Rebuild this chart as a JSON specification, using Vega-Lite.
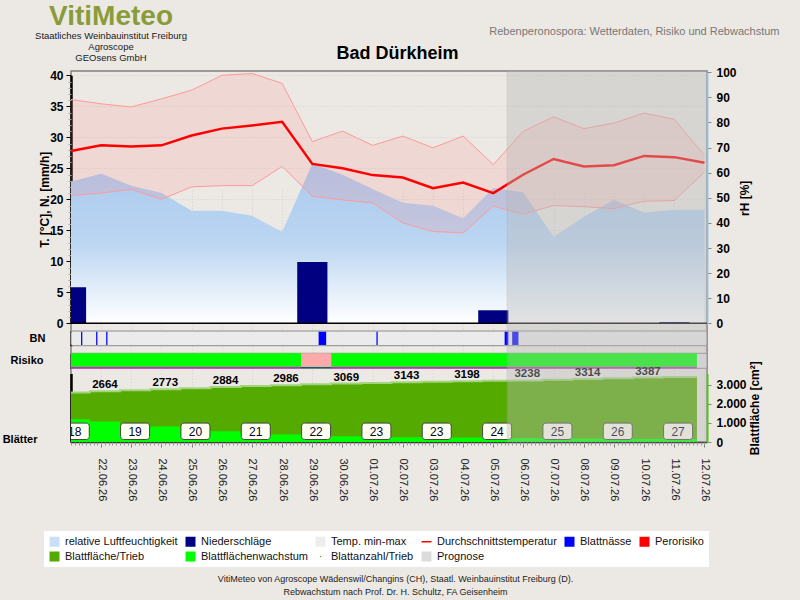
{
  "$schema": "https://vega.github.io/schema/vega-lite/v6.json",
  "width": 636,
  "height": 371,
  "autosize": "none",
  "padding": {"left": 71, "top": 71, "right": 93, "bottom": 158},
  "background": "#ece9e4",
  "title": {
    "text": "VitiMeteo",
    "subtitle": ["Staatliches Weinbauinstitut Freiburg", "Agroscope", "GEOsens GmbH"],
    "anchor": "start",
    "frame": "group",
    "align": "center",
    "dx": 40,
    "dy": 47,
    "offset": 10,
    "font": "Liberation Sans",
    "fontSize": 28,
    "fontWeight": "bold",
    "color": "#8a9c3a",
    "subtitleFont": "Liberation Sans",
    "subtitleFontSize": 9.5,
    "subtitleColor": "#1a1a1a",
    "subtitleLineHeight": 11,
    "subtitlePadding": 0
  },
  "config": {
    "view": {"fill": "#ffffff", "stroke": "#808080", "strokeWidth": 1.5},
    "font": "Liberation Sans"
  },
  "datasets": {
    "tage": [
      {"zeit": "2026-06-21T00:00", "tmin": 20.6, "tmax": 36.1, "tmittel": 27.8, "rh": 56.5},
      {"zeit": "2026-06-22T00:00", "tmin": 21.0, "tmax": 35.4, "tmittel": 28.7, "rh": 59.6},
      {"zeit": "2026-06-23T00:00", "tmin": 21.6, "tmax": 34.9, "tmittel": 28.5, "rh": 54.8},
      {"zeit": "2026-06-24T00:00", "tmin": 20.0, "tmax": 36.2, "tmittel": 28.7, "rh": 51.9},
      {"zeit": "2026-06-25T00:00", "tmin": 22.0, "tmax": 37.6, "tmittel": 30.3, "rh": 44.8},
      {"zeit": "2026-06-26T00:00", "tmin": 22.2, "tmax": 40.0, "tmittel": 31.4, "rh": 44.8},
      {"zeit": "2026-06-27T00:00", "tmin": 22.2, "tmax": 40.3, "tmittel": 31.9, "rh": 42.8},
      {"zeit": "2026-06-28T00:00", "tmin": 25.3, "tmax": 38.7, "tmittel": 32.5, "rh": 36.5},
      {"zeit": "2026-06-29T00:00", "tmin": 20.5, "tmax": 29.3, "tmittel": 25.7, "rh": 63.6},
      {"zeit": "2026-06-30T00:00", "tmin": 19.9, "tmax": 31.0, "tmittel": 25.0, "rh": 59.2},
      {"zeit": "2026-07-01T00:00", "tmin": 19.4, "tmax": 28.7, "tmittel": 23.9, "rh": 53.5},
      {"zeit": "2026-07-02T00:00", "tmin": 16.2, "tmax": 30.2, "tmittel": 23.5, "rh": 48.0},
      {"zeit": "2026-07-03T00:00", "tmin": 14.8, "tmax": 28.3, "tmittel": 21.8, "rh": 46.8},
      {"zeit": "2026-07-04T00:00", "tmin": 14.6, "tmax": 30.2, "tmittel": 22.7, "rh": 41.9},
      {"zeit": "2026-07-05T00:00", "tmin": 18.9, "tmax": 25.6, "tmittel": 21.0, "rh": 53.9},
      {"zeit": "2026-07-06T00:00", "tmin": 17.6, "tmax": 31.0, "tmittel": 24.0, "rh": 52.1},
      {"zeit": "2026-07-07T00:00", "tmin": 19.0, "tmax": 33.3, "tmittel": 26.5, "rh": 34.5},
      {"zeit": "2026-07-08T00:00", "tmin": 18.8, "tmax": 31.4, "tmittel": 25.3, "rh": 42.5},
      {"zeit": "2026-07-09T00:00", "tmin": 18.5, "tmax": 32.3, "tmittel": 25.5, "rh": 49.2},
      {"zeit": "2026-07-10T00:00", "tmin": 19.7, "tmax": 33.9, "tmittel": 27.0, "rh": 44.1},
      {"zeit": "2026-07-11T00:00", "tmin": 19.8, "tmax": 32.9, "tmittel": 26.8, "rh": 45.2},
      {"zeit": "2026-07-12T00:00", "tmin": 24.4, "tmax": 27.1, "tmittel": 25.9, "rh": 45.2}
    ],
    "regen": [
      {"zeit": "2026-06-21T00:00", "mm": 5.8},
      {"zeit": "2026-06-29T00:00", "mm": 9.9},
      {"zeit": "2026-07-05T00:00", "mm": 2.1},
      {"zeit": "2026-07-11T00:00", "mm": 0.2}
    ],
    "blattnaesse": [
      {"zeit": "2026-06-21T08:00", "ende": "2026-06-21T09:00"},
      {"zeit": "2026-06-21T20:00", "ende": "2026-06-21T21:00"},
      {"zeit": "2026-06-22T04:00", "ende": "2026-06-22T05:00"},
      {"zeit": "2026-06-29T05:00", "ende": "2026-06-29T11:00"},
      {"zeit": "2026-07-01T03:00", "ende": "2026-07-01T04:00"},
      {"zeit": "2026-07-05T09:00", "ende": "2026-07-05T12:00"},
      {"zeit": "2026-07-05T15:00", "ende": "2026-07-05T20:00"}
    ],
    "risiko": [
      {"zeit": "2026-06-21T00:00", "ende": "2026-06-28T15:00", "stufe": "gering"},
      {"zeit": "2026-06-28T15:00", "ende": "2026-06-29T15:00", "stufe": "mittel"},
      {"zeit": "2026-06-29T15:00", "ende": "2026-07-11T18:00", "stufe": "gering"}
    ],
    "blatt": [
      {"zeit": "2026-06-20T15:00", "flaeche": 2600, "wachstum": 1200, "beschriftet": false},
      {"zeit": "2026-06-21T03:00", "flaeche": 2600, "wachstum": 1200, "beschriftet": false},
      {"zeit": "2026-06-22T03:00", "flaeche": 2664, "wachstum": 1080, "beschriftet": true},
      {"zeit": "2026-06-23T03:00", "flaeche": 2720, "wachstum": 910, "beschriftet": false},
      {"zeit": "2026-06-24T03:00", "flaeche": 2773, "wachstum": 820, "beschriftet": true},
      {"zeit": "2026-06-25T03:00", "flaeche": 2830, "wachstum": 650, "beschriftet": false},
      {"zeit": "2026-06-26T03:00", "flaeche": 2884, "wachstum": 560, "beschriftet": true},
      {"zeit": "2026-06-27T03:00", "flaeche": 2937, "wachstum": 470, "beschriftet": false},
      {"zeit": "2026-06-28T03:00", "flaeche": 2986, "wachstum": 400, "beschriftet": true},
      {"zeit": "2026-06-29T03:00", "flaeche": 3030, "wachstum": 380, "beschriftet": false},
      {"zeit": "2026-06-30T03:00", "flaeche": 3069, "wachstum": 300, "beschriftet": true},
      {"zeit": "2026-07-01T03:00", "flaeche": 3107, "wachstum": 270, "beschriftet": false},
      {"zeit": "2026-07-02T03:00", "flaeche": 3143, "wachstum": 250, "beschriftet": true},
      {"zeit": "2026-07-03T03:00", "flaeche": 3172, "wachstum": 240, "beschriftet": false},
      {"zeit": "2026-07-04T03:00", "flaeche": 3198, "wachstum": 230, "beschriftet": true},
      {"zeit": "2026-07-05T03:00", "flaeche": 3218, "wachstum": 220, "beschriftet": false},
      {"zeit": "2026-07-06T03:00", "flaeche": 3238, "wachstum": 210, "beschriftet": true},
      {"zeit": "2026-07-07T03:00", "flaeche": 3276, "wachstum": 200, "beschriftet": false},
      {"zeit": "2026-07-08T03:00", "flaeche": 3314, "wachstum": 190, "beschriftet": true},
      {"zeit": "2026-07-09T03:00", "flaeche": 3351, "wachstum": 180, "beschriftet": false},
      {"zeit": "2026-07-10T03:00", "flaeche": 3387, "wachstum": 170, "beschriftet": true},
      {"zeit": "2026-07-11T03:00", "flaeche": 3420, "wachstum": 160, "beschriftet": false},
      {"zeit": "2026-07-11T18:00", "flaeche": 3420, "wachstum": 160, "beschriftet": false}
    ],
    "blattzahl": [
      {"zeit": "2026-06-21T03:00", "anzahl": 18},
      {"zeit": "2026-06-23T03:00", "anzahl": 19},
      {"zeit": "2026-06-25T03:00", "anzahl": 20},
      {"zeit": "2026-06-27T03:00", "anzahl": 21},
      {"zeit": "2026-06-29T03:00", "anzahl": 22},
      {"zeit": "2026-07-01T03:00", "anzahl": 23},
      {"zeit": "2026-07-03T03:00", "anzahl": 23},
      {"zeit": "2026-07-05T03:00", "anzahl": 24},
      {"zeit": "2026-07-07T03:00", "anzahl": 25},
      {"zeit": "2026-07-09T03:00", "anzahl": 26},
      {"zeit": "2026-07-11T03:00", "anzahl": 27}
    ],
    "prognose": [
      {"zeit": "2026-07-05T11:00", "ende": "2026-07-12T02:00"}
    ],
    "legende": [
      {"eintrag": "relative Luftfeuchtigkeit"},
      {"eintrag": "Niederschläge"},
      {"eintrag": "Temp. min-max"},
      {"eintrag": "Durchschnittstemperatur"},
      {"eintrag": "Blattnässe"},
      {"eintrag": "Perorisiko"},
      {"eintrag": "Blattfläche/Trieb"},
      {"eintrag": "Blattflächenwachstum"},
      {"eintrag": "Blattanzahl/Trieb"},
      {"eintrag": "Prognose"}
    ]
  },
  "layer": [
    {
      "data": {"name": "tage"},
      "mark": {
        "type": "area",
        "color": {
          "gradient": "linear",
          "x1": 0, "y1": 0, "x2": 0, "y2": 1,
          "stops": [
            {"offset": 0, "color": "#a9c9ee"},
            {"offset": 0.5, "color": "#bcd6f2"},
            {"offset": 1, "color": "#ffffff"}
          ]
        }
      },
      "encoding": {
        "x": {
          "field": "zeit", "type": "temporal",
          "scale": {"domain": [{"year": 2026, "month": 6, "date": 21}, {"year": 2026, "month": 7, "date": 12, "hours": 2}], "padding": 0},
          "axis": {
            "orient": "bottom",
            "values": [
              {"year": 2026, "month": 6, "date": 22}, {"year": 2026, "month": 6, "date": 23},
              {"year": 2026, "month": 6, "date": 24}, {"year": 2026, "month": 6, "date": 25},
              {"year": 2026, "month": 6, "date": 26}, {"year": 2026, "month": 6, "date": 27},
              {"year": 2026, "month": 6, "date": 28}, {"year": 2026, "month": 6, "date": 29},
              {"year": 2026, "month": 6, "date": 30}, {"year": 2026, "month": 7, "date": 1},
              {"year": 2026, "month": 7, "date": 2}, {"year": 2026, "month": 7, "date": 3},
              {"year": 2026, "month": 7, "date": 4}, {"year": 2026, "month": 7, "date": 5},
              {"year": 2026, "month": 7, "date": 6}, {"year": 2026, "month": 7, "date": 7},
              {"year": 2026, "month": 7, "date": 8}, {"year": 2026, "month": 7, "date": 9},
              {"year": 2026, "month": 7, "date": 10}, {"year": 2026, "month": 7, "date": 11},
              {"year": 2026, "month": 7, "date": 12}
            ],
            "format": "%d.%m.%y",
            "labelAngle": 90,
            "labelFlush": false,
            "labelOverlap": false,
            "labelFont": "Liberation Sans",
            "labelFontSize": 11,
            "labelColor": "#222222",
            "labelPadding": 11,
            "tickSize": 5,
            "tickColor": "#777777",
            "domain": true,
            "domainColor": "#333333",
            "domainWidth": 1.5,
            "grid": true,
            "gridColor": "#d2d2d2",
            "gridDash": [1, 2],
            "title": ["VitiMeteo von Agroscope Wädenswil/Changins (CH), Staatl. Weinbauinstitut Freiburg (D).", "Rebwachstum nach Prof. Dr. H. Schultz, FA Geisenheim"],
            "titleFont": "Liberation Sans",
            "titleFontSize": 9,
            "titleFontWeight": "normal",
            "titleColor": "#222222",
            "titleX": 324,
            "titleY": 132,
            "titleAlign": "center",
            "titleBaseline": "top",
            "titleLineHeight": 13
          }
        },
        "y": {
          "field": "rh", "type": "quantitative",
          "scale": {"domain": [0, 100], "range": [252.3, 1.3]},
          "axis": {
            "orient": "right",
            "title": "rH [%]",
            "titleAngle": 270,
            "titleBaseline": "top",
            "titleFont": "Liberation Sans",
            "titleFontSize": 12,
            "titleFontWeight": "bold",
            "titleColor": "#000000",
            "titlePadding": 3,
            "values": [0, 10, 20, 30, 40, 50, 60, 70, 80, 90, 100],
            "labelFont": "Liberation Sans",
            "labelFontSize": 12,
            "labelFontWeight": "bold",
            "labelColor": "#000000",
            "labelPadding": 5,
            "tickSize": 4,
            "tickColor": "#888888",
            "domainColor": "#9cc4e4",
            "domainWidth": 2,
            "grid": false
          }
        }
      }
    },
    {
      "data": {"name": "tage"},
      "mark": {"type": "area", "color": "#ff8080", "opacity": 0.17},
      "encoding": {
        "x": {
          "field": "zeit", "type": "temporal",
          "scale": {"domain": [{"year": 2026, "month": 6, "date": 21}, {"year": 2026, "month": 7, "date": 12, "hours": 2}], "padding": 0},
          "axis": {
            "orient": "top",
            "labels": false, "ticks": false, "domain": false, "grid": false,
            "title": "Rebenperonospora: Wetterdaten, Risiko und Rebwachstum",
            "titleFont": "Liberation Sans",
            "titleFontSize": 11,
            "titleFontWeight": "normal",
            "titleColor": "#777777",
            "titleAlign": "right",
            "titleX": 708,
            "titleY": -37,
            "titleBaseline": "alphabetic"
          }
        },
        "y": {
          "field": "tmax", "type": "quantitative",
          "scale": {"domain": [0, 40], "range": [252.3, 4.3]},
          "axis": {
            "orient": "left",
            "title": "T. [°C], N. [mm/h]",
            "titleFont": "Liberation Sans",
            "titleFontSize": 12,
            "titleFontWeight": "bold",
            "titleColor": "#000000",
            "titlePadding": -2,
            "values": [0, 5, 10, 15, 20, 25, 30, 35, 40],
            "labelFont": "Liberation Sans",
            "labelFontSize": 12,
            "labelFontWeight": "bold",
            "labelColor": "#000000",
            "labelPadding": 3,
            "tickSize": 5,
            "tickColor": "#000000",
            "domainColor": "#000000",
            "domainWidth": 2.5,
            "grid": true,
            "gridColor": "#d2d2d2",
            "gridDash": [1, 2]
          }
        },
        "y2": {"field": "tmin"}
      }
    },
    {
      "data": {"name": "tage"},
      "mark": {"type": "line", "color": "#ff9a9a", "strokeWidth": 1},
      "encoding": {
        "x": {
          "field": "zeit", "type": "temporal",
          "scale": {"domain": [{"year": 2026, "month": 6, "date": 21}, {"year": 2026, "month": 7, "date": 12, "hours": 2}], "padding": 0},
          "axis": {
            "orient": "bottom",
            "tickCount": 126,
            "labels": false, "domain": false, "grid": false,
            "tickSize": 3, "tickColor": "#999999",
            "title": null
          }
        },
        "y": {"field": "tmax", "type": "quantitative", "scale": {"domain": [0, 40], "range": [252.3, 4.3]}, "axis": null}
      }
    },
    {
      "data": {"name": "tage"},
      "mark": {"type": "line", "color": "#ff9a9a", "strokeWidth": 1},
      "encoding": {
        "x": {"field": "zeit", "type": "temporal", "scale": {"domain": [{"year": 2026, "month": 6, "date": 21}, {"year": 2026, "month": 7, "date": 12, "hours": 2}], "padding": 0}, "axis": null},
        "y": {"field": "tmin", "type": "quantitative", "scale": {"domain": [0, 40], "range": [252.3, 4.3]}, "axis": null}
      }
    },
    {
      "data": {"name": "tage"},
      "mark": {"type": "line", "color": "#ff0000", "strokeWidth": 2.5},
      "encoding": {
        "x": {"field": "zeit", "type": "temporal", "scale": {"domain": [{"year": 2026, "month": 6, "date": 21}, {"year": 2026, "month": 7, "date": 12, "hours": 2}], "padding": 0}, "axis": null},
        "y": {"field": "tmittel", "type": "quantitative", "scale": {"domain": [0, 40], "range": [252.3, 4.3]}, "axis": null}
      }
    },
    {
      "data": {"name": "regen"},
      "mark": {"type": "bar", "color": "#000080", "size": 30.2, "clip": true},
      "encoding": {
        "x": {"field": "zeit", "type": "temporal", "scale": {"domain": [{"year": 2026, "month": 6, "date": 21}, {"year": 2026, "month": 7, "date": 12, "hours": 2}], "padding": 0}, "axis": null},
        "y": {
          "field": "mm", "type": "quantitative",
          "scale": {"domain": [0, 40], "range": [252.3, 4.3]},
          "axis": {
            "orient": "left",
            "values": [1, 2, 3, 4, 6, 7, 8, 9, 11, 12, 13, 14, 16, 17, 18, 19, 21, 22, 23, 24, 26, 27, 28, 29, 31, 32, 33, 34, 36, 37, 38, 39],
            "labels": false, "domain": false, "grid": false,
            "tickSize": 3, "tickColor": "#aaaaaa",
            "title": null
          }
        }
      }
    },
    {
      "data": {"values": [{}]},
      "mark": {"type": "rule", "color": "#000000", "strokeWidth": 1.5},
      "encoding": {
        "y": {"datum": 0, "type": "quantitative", "scale": {"domain": [0, 40], "range": [252.3, 4.3]}, "axis": null}
      }
    },
    {
      "data": {"values": [{}]},
      "mark": {"type": "rect", "color": "#ebebeb", "stroke": "#8c8c8c", "strokeWidth": 1, "cornerRadius": 2},
      "encoding": {
        "y": {
          "datum": 0, "type": "quantitative",
          "scale": {"domain": [0, 1], "range": [274.7, 260]},
          "axis": {
            "orient": "left",
            "values": [0.5],
            "labelExpr": "'BN'",
            "labelFont": "Liberation Sans",
            "labelFontSize": 11,
            "labelFontWeight": "bold",
            "labelColor": "#000000",
            "labelPadding": 26,
            "ticks": false,
            "grid": false,
            "domainColor": "#000000",
            "domainWidth": 2.5,
            "title": null
          }
        },
        "y2": {"datum": 1}
      }
    },
    {
      "data": {"name": "blattnaesse"},
      "mark": {"type": "rect", "color": "#0000ff", "clip": true},
      "encoding": {
        "x": {"field": "zeit", "type": "temporal", "scale": {"domain": [{"year": 2026, "month": 6, "date": 21}, {"year": 2026, "month": 7, "date": 12, "hours": 2}], "padding": 0}, "axis": null},
        "x2": {"field": "ende"},
        "y": {"datum": 0.05, "type": "quantitative", "scale": {"domain": [0, 1], "range": [274.7, 260]}, "axis": null},
        "y2": {"datum": 0.95}
      }
    },
    {
      "data": {"values": [{}]},
      "mark": {"type": "rect", "color": "#e4e4e4", "stroke": "#8c8c8c", "strokeWidth": 1},
      "encoding": {
        "y": {
          "datum": 0, "type": "quantitative",
          "scale": {"domain": [0, 1], "range": [297.3, 282.3]},
          "axis": {
            "orient": "left",
            "values": [0.5],
            "labelExpr": "'Risiko'",
            "labelFont": "Liberation Sans",
            "labelFontSize": 11,
            "labelFontWeight": "bold",
            "labelColor": "#000000",
            "labelPadding": 28,
            "ticks": false,
            "grid": false,
            "domainColor": "#000000",
            "domainWidth": 2.5,
            "title": null
          }
        },
        "y2": {"datum": 1}
      }
    },
    {
      "data": {"name": "risiko"},
      "mark": {"type": "rect", "clip": true},
      "encoding": {
        "x": {"field": "zeit", "type": "temporal", "scale": {"domain": [{"year": 2026, "month": 6, "date": 21}, {"year": 2026, "month": 7, "date": 12, "hours": 2}], "padding": 0}, "axis": null},
        "x2": {"field": "ende"},
        "y": {"datum": 0, "type": "quantitative", "scale": {"domain": [0, 1], "range": [297.3, 282.3]}, "axis": null},
        "y2": {"datum": 1},
        "fill": {"condition": {"test": "datum.stufe === 'mittel'", "value": "#ffaaaa"}, "value": "#00ff00"}
      }
    },
    {
      "data": {"name": "risiko"},
      "mark": {"type": "rule", "strokeWidth": 1.5, "clip": true},
      "encoding": {
        "x": {"field": "zeit", "type": "temporal", "scale": {"domain": [{"year": 2026, "month": 6, "date": 21}, {"year": 2026, "month": 7, "date": 12, "hours": 2}], "padding": 0}, "axis": null},
        "x2": {"field": "ende"},
        "y": {"datum": 0.04, "type": "quantitative", "scale": {"domain": [0, 1], "range": [297.3, 282.3]}, "axis": null},
        "stroke": {"condition": {"test": "datum.stufe === 'mittel'", "value": "#006666"}, "value": "#ff00ff"}
      }
    },
    {
      "data": {"name": "blatt"},
      "mark": {"type": "area", "color": "#55aa00", "interpolate": "step", "clip": true},
      "encoding": {
        "x": {"field": "zeit", "type": "temporal", "scale": {"domain": [{"year": 2026, "month": 6, "date": 21}, {"year": 2026, "month": 7, "date": 12, "hours": 2}], "padding": 0}, "axis": null},
        "y": {
          "field": "flaeche", "type": "quantitative",
          "scale": {"domain": [0, 3600], "range": [371, 302.5]},
          "axis": {
            "orient": "right",
            "title": "Blattfläche [cm²]",
            "titleAngle": 270,
            "titleBaseline": "top",
            "titleFont": "Liberation Sans",
            "titleFontSize": 12,
            "titleFontWeight": "bold",
            "titleColor": "#000000",
            "titlePadding": 3,
            "values": [0, 1000, 2000, 3000],
            "labelExpr": "replace(format(datum.value, ','), ',', '.')",
            "labelFont": "Liberation Sans",
            "labelFontSize": 12,
            "labelFontWeight": "bold",
            "labelColor": "#000000",
            "labelPadding": 5,
            "tickSize": 4,
            "tickColor": "#888888",
            "domainColor": "#44cc00",
            "domainWidth": 2,
            "grid": false
          }
        }
      }
    },
    {
      "data": {"name": "blatt"},
      "mark": {"type": "line", "color": "#a2d47e", "strokeWidth": 2, "interpolate": "step", "clip": true},
      "encoding": {
        "x": {"field": "zeit", "type": "temporal", "scale": {"domain": [{"year": 2026, "month": 6, "date": 21}, {"year": 2026, "month": 7, "date": 12, "hours": 2}], "padding": 0}, "axis": null},
        "y": {"field": "flaeche", "type": "quantitative", "scale": {"domain": [0, 3600], "range": [371, 302.5]}, "axis": null}
      }
    },
    {
      "data": {"name": "blatt"},
      "mark": {"type": "area", "color": "#00ff00", "interpolate": "step", "clip": true},
      "encoding": {
        "x": {"field": "zeit", "type": "temporal", "scale": {"domain": [{"year": 2026, "month": 6, "date": 21}, {"year": 2026, "month": 7, "date": 12, "hours": 2}], "padding": 0}, "axis": null},
        "y": {
          "field": "wachstum", "type": "quantitative",
          "scale": {"domain": [0, 3600], "range": [371, 302.5]},
          "axis": {
            "orient": "left",
            "labels": false, "ticks": false, "grid": false,
            "domainColor": "#000000", "domainWidth": 2.5,
            "title": null
          }
        }
      }
    },
    {
      "data": {"name": "blatt"},
      "transform": [{"filter": "datum.beschriftet"}],
      "mark": {"type": "text", "baseline": "bottom", "dy": -1, "fontSize": 11.5, "fontWeight": "bold", "color": "#000000", "font": "Liberation Sans"},
      "encoding": {
        "x": {"field": "zeit", "type": "temporal", "scale": {"domain": [{"year": 2026, "month": 6, "date": 21}, {"year": 2026, "month": 7, "date": 12, "hours": 2}], "padding": 0}, "axis": null},
        "y": {"field": "flaeche", "type": "quantitative", "scale": {"domain": [0, 3600], "range": [371, 302.5]}, "axis": null},
        "text": {"field": "flaeche", "type": "quantitative", "format": "d"}
      }
    },
    {
      "data": {"name": "blattzahl"},
      "mark": {"type": "bar", "size": 29, "color": "#fffff0", "stroke": "#444444", "strokeWidth": 1, "cornerRadius": 3, "clip": true},
      "encoding": {
        "x": {"field": "zeit", "type": "temporal", "scale": {"domain": [{"year": 2026, "month": 6, "date": 21}, {"year": 2026, "month": 7, "date": 12, "hours": 2}], "padding": 0}, "axis": null},
        "y": {
          "datum": 0.12, "type": "quantitative",
          "scale": {"domain": [0, 1], "range": [371, 350]},
          "axis": {
            "orient": "left",
            "values": [0.1],
            "labelExpr": "'Blätter'",
            "labelFont": "Liberation Sans",
            "labelFontSize": 11,
            "labelFontWeight": "bold",
            "labelColor": "#000000",
            "labelPadding": 34,
            "ticks": false,
            "domain": false,
            "grid": false,
            "title": null
          }
        },
        "y2": {"datum": 0.9}
      }
    },
    {
      "data": {"name": "blattzahl"},
      "mark": {"type": "text", "fontSize": 12, "color": "#000033", "baseline": "middle", "clip": true, "font": "Liberation Sans"},
      "encoding": {
        "x": {"field": "zeit", "type": "temporal", "scale": {"domain": [{"year": 2026, "month": 6, "date": 21}, {"year": 2026, "month": 7, "date": 12, "hours": 2}], "padding": 0}, "axis": null},
        "y": {"datum": 0.5, "type": "quantitative", "scale": {"domain": [0, 1], "range": [371, 350]}, "axis": null},
        "text": {"field": "anzahl", "type": "quantitative"}
      }
    },
    {
      "data": {"name": "prognose"},
      "mark": {"type": "rect", "color": "#b9b9b9", "opacity": 0.4, "stroke": "#a0a0a0", "strokeWidth": 1, "strokeOpacity": 0.8},
      "encoding": {
        "x": {
          "field": "zeit", "type": "temporal",
          "scale": {"domain": [{"year": 2026, "month": 6, "date": 21}, {"year": 2026, "month": 7, "date": 12, "hours": 2}], "padding": 0},
          "axis": {
            "orient": "top",
            "labels": false, "ticks": false, "domain": false, "grid": false,
            "title": "Bad Dürkheim",
            "titleFont": "Liberation Sans",
            "titleFontSize": 18,
            "titleFontWeight": "bold",
            "titleColor": "#000000",
            "titleAlign": "center",
            "titleX": 326,
            "titleY": -13,
            "titleBaseline": "alphabetic"
          }
        },
        "x2": {"field": "ende"}
      }
    },
    {
      "data": {"name": "legende"},
      "transform": [{"filter": "false"}],
      "mark": {"type": "point", "filled": true, "opacity": 1},
      "encoding": {
        "color": {
          "field": "eintrag", "type": "nominal",
          "scale": {
            "domain": ["relative Luftfeuchtigkeit", "Niederschläge", "Temp. min-max", "Durchschnittstemperatur", "Blattnässe", "Perorisiko", "Blattfläche/Trieb", "Blattflächenwachstum", "Blattanzahl/Trieb", "Prognose"],
            "range": ["#cadff6", "#000080", "#eeeeee", "#ff0000", "#0000ff", "#ff0000", "#55aa00", "#00ff00", "#55aa00", "#dcdcdc"]
          },
          "legend": {
            "title": null, "orient": "none", "legendX": -27, "legendY": 460, "columns": 6, "direction": "horizontal",
            "padding": 5, "fillColor": "#ffffff",
            "labelFont": "Liberation Sans", "labelFontSize": 11, "labelColor": "#111111", "labelOffset": 5, "labelLimit": 220,
            "columnPadding": 7, "rowPadding": 3, "symbolSize": 100, "symbolStrokeWidth": 0
          }
        },
        "shape": {
          "field": "eintrag", "type": "nominal",
          "scale": {
            "domain": ["relative Luftfeuchtigkeit", "Niederschläge", "Temp. min-max", "Durchschnittstemperatur", "Blattnässe", "Perorisiko", "Blattfläche/Trieb", "Blattflächenwachstum", "Blattanzahl/Trieb", "Prognose"],
            "range": ["square", "square", "square", "M-1,-0.15H1V0.15H-1Z", "square", "square", "square", "square", "M-0.12,-0.12H0.12V0.12H-0.12Z", "square"]
          },
          "legend": {"title": null, "orient": "none", "legendX": -27, "legendY": 460, "columns": 6, "direction": "horizontal"}
        }
      }
    }
  ],
  "resolve": {"scale": {"y": "independent"}, "axis": {"x": "independent"}}
}
